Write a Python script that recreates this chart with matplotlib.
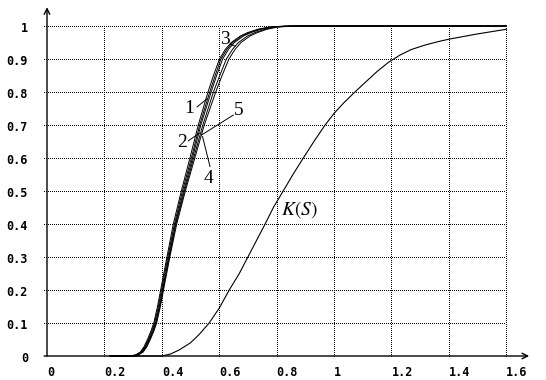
import matplotlib
matplotlib.use("Agg")
import matplotlib.pyplot as plt

plt.rcParams['mathtext.fontset'] = 'stix'

# ---- data ----
x_ticks = [0, 0.2, 0.4, 0.6, 0.8, 1.0, 1.2, 1.4, 1.6]
x_tick_labels = ["0", "0.2", "0.4", "0.6", "0.8", "1", "1.2", "1.4", "1.6"]
y_ticks = [0, 0.1, 0.2, 0.3, 0.4, 0.5, 0.6, 0.7, 0.8, 0.9, 1.0]
y_tick_labels = ["0", "0.1", "0.2", "0.3", "0.4", "0.5", "0.6", "0.7", "0.8", "0.9", "1"]

# S-curves 1..5: y levels shared, x position of each curve at that level
s_levels = [0, 0, 0.004, 0.012, 0.028, 0.05, 0.075, 0.1, 0.15, 0.2, 0.3, 0.4, 0.5,
            0.6, 0.7, 0.8, 0.85, 0.9, 0.93, 0.95, 0.97, 0.98, 0.99, 0.997, 1.0, 1.0]
curve1_x = [0.22, 0.29, 0.310, 0.325, 0.338, 0.350, 0.362, 0.372, 0.385, 0.396, 0.418, 0.440, 0.468,
            0.498, 0.527, 0.561, 0.580, 0.601, 0.622, 0.642, 0.674, 0.699, 0.734, 0.775, 0.83, 1.6]
curve2_x = [0.22, 0.30, 0.315, 0.330, 0.343, 0.356, 0.368, 0.378, 0.391, 0.402, 0.424, 0.447, 0.476,
            0.507, 0.536, 0.572, 0.591, 0.612, 0.633, 0.653, 0.685, 0.710, 0.745, 0.785, 0.84, 1.6]
curve3_x = [0.22, 0.31, 0.320, 0.335, 0.348, 0.360, 0.372, 0.382, 0.395, 0.406, 0.428, 0.452, 0.482,
            0.515, 0.548, 0.588, 0.610, 0.634, 0.656, 0.676, 0.708, 0.733, 0.766, 0.804, 0.87, 1.6]
curve4_x = [0.22, 0.305, 0.318, 0.333, 0.346, 0.358, 0.370, 0.380, 0.393, 0.404, 0.426, 0.449, 0.479,
            0.511, 0.543, 0.580, 0.602, 0.625, 0.647, 0.667, 0.699, 0.724, 0.759, 0.798, 0.86, 1.6]
curve5_x = [0.22, 0.298, 0.313, 0.328, 0.341, 0.353, 0.365, 0.375, 0.388, 0.399, 0.421, 0.444, 0.472,
            0.503, 0.532, 0.567, 0.586, 0.606, 0.627, 0.647, 0.679, 0.705, 0.740, 0.780, 0.85, 1.6]

# K(S) curve
k_x = [0.22, 0.40, 0.43, 0.46, 0.50, 0.53, 0.565, 0.60, 0.635, 0.67, 0.70, 0.73, 0.76, 0.79,
       0.823, 0.857, 0.893, 0.93, 0.969, 1.0, 1.035, 1.073, 1.11, 1.15, 1.19, 1.23, 1.27,
       1.32, 1.36, 1.40, 1.45, 1.50, 1.55, 1.60]
k_y = [0, 0, 0.006, 0.018, 0.04, 0.065, 0.10, 0.145, 0.20, 0.25, 0.30, 0.35, 0.40, 0.452,
       0.50, 0.55, 0.60, 0.65, 0.70, 0.735, 0.768, 0.80, 0.83, 0.862, 0.890, 0.912, 0.929,
       0.943, 0.952, 0.96, 0.968, 0.976, 0.983, 0.99]

# curve labels: text, label position, leader start, leader end
curve_labels = ["1", "2", "3", "4", "5"]
label_pos = [(0.495, 0.750), (0.472, 0.647), (0.620, 0.958), (0.564, 0.538), (0.669, 0.745)]
leader_from = [(0.523, 0.755), (0.492, 0.652), (0.638, 0.945), (0.568, 0.574), (0.649, 0.730)]
leader_to = [(0.557, 0.779), (0.531, 0.675), (0.655, 0.939), (0.542, 0.665), (0.539, 0.670)]

# ---- figure ----
fig = plt.figure(figsize=(5.46, 3.80), dpi=100)
ax = fig.add_axes([0, 0, 1, 1])
ax.set_xlim(-47 / 287, (546 - 47) / 287)
ax.set_ylim(-24 / 330, (380 - 24) / 330)
ax.axis('off')

# grid
ax.hlines(y_ticks[1:], -0.012, x_ticks[-1], colors='black', linewidth=0.72,
          linestyles=(0, (1, 1.4)), antialiased=False)
ax.vlines(x_ticks[1:], 0, 1.0, colors='black', linewidth=0.72,
          linestyles=(0, (1, 1.4)), antialiased=False)

# axes with arrows
ax.annotate('', xy=(1.68, 0), xytext=(-0.01, 0),
            arrowprops=dict(arrowstyle='->', lw=1.0, color='black',
                            shrinkA=0, shrinkB=0, mutation_scale=10))
ax.annotate('', xy=(0, 1.057), xytext=(0, 0),
            arrowprops=dict(arrowstyle='->', lw=1.0, color='black',
                            shrinkA=0, shrinkB=0, mutation_scale=10))

# curves
for cx in [curve1_x, curve2_x, curve3_x, curve4_x, curve5_x]:
    ax.plot(cx, s_levels, color='black', linewidth=0.7)
ax.plot(k_x, k_y, color='black', linewidth=0.8)

# tick labels
tick_font = dict(family='DejaVu Sans Mono', fontweight='bold', fontsize=8.5)
for xv, lab in zip(x_ticks, x_tick_labels):
    ax.text(xv, -0.030, lab, ha='left', va='top', **tick_font)
for yv, lab in zip(y_ticks, y_tick_labels):
    ax.text(-0.066, yv - 0.009, lab, ha='right', va='center', **tick_font)

# curve labels and leaders
for lab, pos, p0, p1 in zip(curve_labels, label_pos, leader_from, leader_to):
    ax.text(pos[0], pos[1], lab, ha='center', va='center',
            family='Liberation Serif', fontsize=14)
    ax.plot([p0[0], p1[0]], [p0[1], p1[1]], color='black', linewidth=0.7)

ax.text(0.881, 0.445, r'$K(S)$', ha='center', va='center', fontsize=14)

fig.savefig('out.png', dpi=100)
